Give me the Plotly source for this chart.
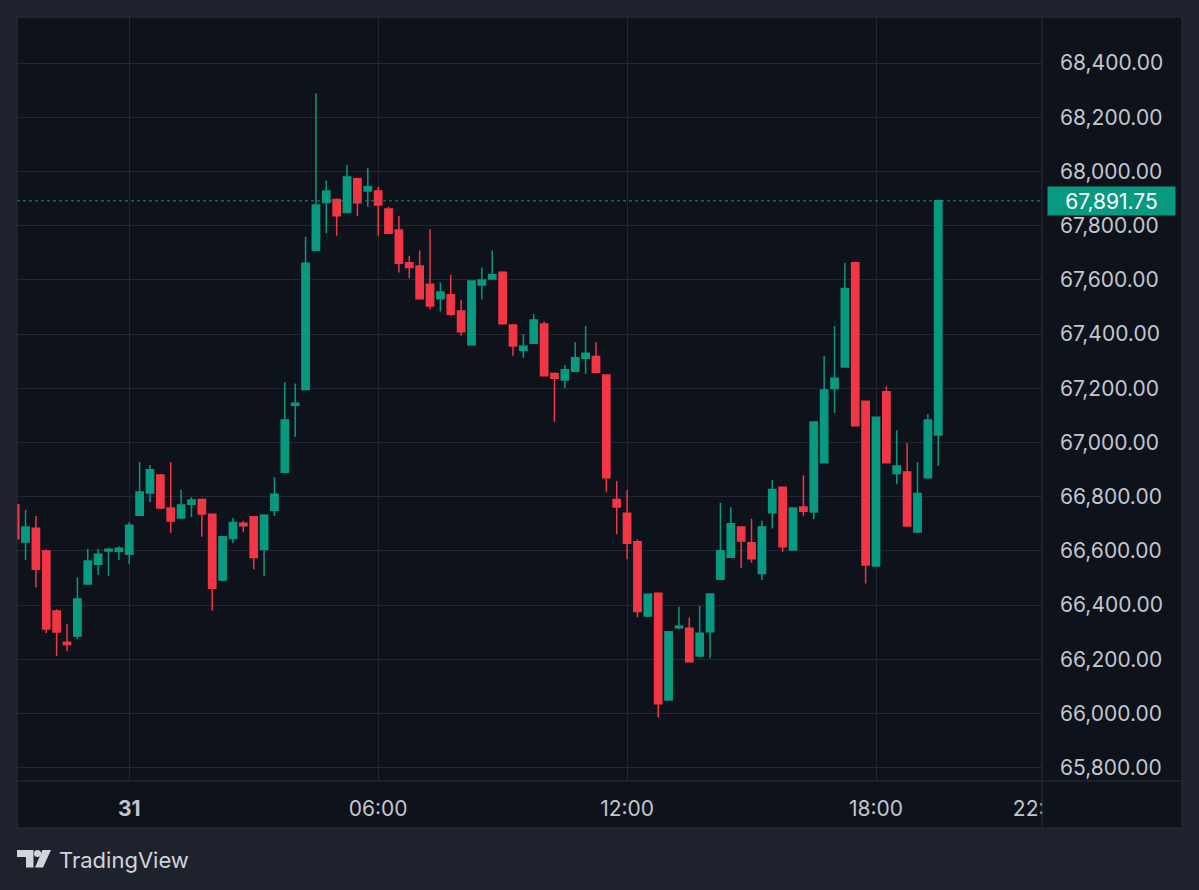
import pandas as pd
import plotly.graph_objects as go

# ---- data (15-minute candles, 30 May 21:15 -> 31 May 19:30) ----
start_time = "2024-05-30 21:15"
n_candles = 90
times = pd.date_range(start_time, periods=n_candles, freq="15min")

opens = [66770, 66633, 66684, 66600, 66378, 66263, 66286, 66478, 66551, 66600,
         66599, 66588, 66732, 66814, 66880, 66758, 66721, 66772, 66790, 66735,
         66493, 66646, 66702, 66726, 66606, 66750, 66890, 67137, 67196, 67709,
         67886, 67897, 67849, 67973, 67928, 67928, 67862, 67784, 67663, 67651,
         67584, 67530, 67545, 67485, 67361, 67581, 67603, 67628, 67434, 67340,
         67366, 67437, 67255, 67231, 67263, 67311, 67317, 67249, 66790, 66739,
         66634, 66360, 66444, 66050, 66316, 66315, 66212, 66302, 66495, 66577,
         66688, 66630, 66517, 66741, 66835, 66603, 66762, 66744, 66925, 67199,
         67279, 67663, 67152, 66544, 67187, 66886, 66891, 66670, 66870, 67028]
highs = [66775, 66751, 66729, 66605, 66385, 66330, 66503, 66607, 66607, 66610,
         66617, 66706, 66928, 66917, 66884, 66928, 66825, 66799, 66793, 66738,
         66655, 66722, 66710, 66729, 66735, 66872, 67222, 67218, 67759, 68289,
         67966, 67900, 68024, 67977, 68014, 67944, 67870, 67836, 67689, 67708,
         67787, 67591, 67619, 67527, 67598, 67646, 67708, 67632, 67437, 67399,
         67473, 67446, 67258, 67285, 67370, 67430, 67370, 67252, 66858, 66825,
         66643, 66442, 66447, 66304, 66394, 66354, 66397, 66443, 66778, 66761,
         66691, 66719, 66711, 66861, 66838, 66760, 66879, 67078, 67319, 67430,
         67663, 67667, 67154, 67095, 67208, 67045, 66997, 66927, 67105, 67893]
lows = [66640, 66566, 66466, 66297, 66212, 66230, 66274, 66476, 66511, 66507,
        66566, 66551, 66730, 66780, 66755, 66666, 66719, 66725, 66652, 66379,
        66489, 66628, 66669, 66532, 66507, 66729, 66888, 67021, 67194, 67705,
        67772, 67763, 67847, 67836, 67870, 67763, 67770, 67627, 67606, 67528,
        67492, 67483, 67468, 67394, 67359, 67528, 67601, 67436, 67320, 67313,
        67364, 67244, 67077, 67200, 67261, 67253, 67257, 66816, 66661, 66569,
        66355, 66355, 65986, 66048, 66311, 66189, 66208, 66204, 66493, 66575,
        66538, 66556, 66493, 66683, 66597, 66601, 66730, 66717, 66923, 67110,
        67277, 67060, 66480, 66542, 66923, 66846, 66690, 66668, 66868, 66914]
closes = [66645, 66688, 66532, 66312, 66301, 66255, 66423, 66563, 66588, 66606,
          66610, 66695, 66817, 66899, 66758, 66710, 66769, 66788, 66736, 66462,
          66652, 66705, 66693, 66576, 66732, 66809, 67083, 67145, 67661, 67876,
          67928, 67837, 67980, 67885, 67944, 67876, 67772, 67661, 67646, 67530,
          67504, 67555, 67473, 67409, 67596, 67600, 67619, 67438, 67356, 67355,
          67452, 67246, 67237, 67268, 67313, 67329, 67259, 66870, 66762, 66628,
          66376, 66440, 66036, 66302, 66322, 66191, 66296, 66441, 66601, 66700,
          66637, 66571, 66688, 66827, 66615, 66758, 66746, 67076, 67194, 67237,
          67568, 67062, 66548, 67093, 66925, 66913, 66692, 66812, 67083, 67891.75]

last_price = 67891.75
tick_times = ["2024-05-31 00:00", "2024-05-31 06:00", "2024-05-31 12:00",
              "2024-05-31 18:00", "2024-05-31 22:00"]
tick_labels = ["<b>31</b>", "06:00", "12:00", "18:00", "22:00"]
x_range = ["2024-05-30 21:17:40", "2024-05-31 22:00:05"]
y_range = [65751, 68570]

# ---- style ----
UP = "#089981"
DOWN = "#F23645"
OUTER = "#1e222d"
INNER = "#0e121b"
GRID = "#222733"
BORDER = "#2a2e39"
TEXT = "#c3c6ce"
FONT = "Inter"
FS = 21

W, H = 1199, 890
L, R, T, B = 17, 1042, 17, 781


def px(x):
    return (x - L) / (R - L)


def py(y):
    return (B - y) / (B - T)


fig = go.Figure(go.Candlestick(
    x=times, open=opens, high=highs, low=lows, close=closes,
    increasing=dict(line=dict(color=UP, width=1.5), fillcolor=UP),
    decreasing=dict(line=dict(color=DOWN, width=1.5), fillcolor=DOWN),
    whiskerwidth=0, hoverinfo="skip", showlegend=False,
))

shapes = [
    dict(type="rect", xref="paper", yref="paper", x0=px(17), x1=px(1182),
         y0=py(828), y1=py(17), fillcolor=INNER, line=dict(width=0), layer="below"),
    dict(type="line", xref="paper", yref="y", x0=0, x1=1, y0=last_price, y1=last_price,
         line=dict(color=UP, width=1, dash="dot"), layer="above"),
    dict(type="rect", xref="paper", yref="paper", x0=px(1042.5), x1=px(1181.5),
         y0=py(827.5), y1=py(781.5), fillcolor=INNER, line=dict(width=0), layer="above"),
    dict(type="line", xref="paper", yref="paper", x0=px(1042), x1=px(1042),
         y0=py(828), y1=py(17), line=dict(color=BORDER, width=1), layer="above"),
    dict(type="line", xref="paper", yref="paper", x0=px(17), x1=px(1182),
         y0=py(781), y1=py(781), line=dict(color=BORDER, width=1), layer="above"),
    dict(type="rect", xref="paper", yref="paper", x0=px(17), x1=px(1182),
         y0=py(828), y1=py(17), line=dict(color=BORDER, width=1), layer="above"),
]

# TradingView logo (approximation with shapes)
LOGO = "#d1d4dc"
def pth(points):
    return "M " + " L ".join(f"{px(a):.5f},{py(b):.5f}" for a, b in points) + " Z"

shapes.append(dict(type="path", xref="paper", yref="paper",
                   path=pth([(17, 850), (33.5, 850), (33.5, 867.5), (26, 867.5), (26, 857), (17, 857)]),
                   fillcolor=LOGO, line=dict(width=0)))
shapes.append(dict(type="circle", xref="paper", yref="paper",
                   x0=px(34), x1=px(41), y0=py(857), y1=py(850),
                   fillcolor=LOGO, line=dict(width=0)))
shapes.append(dict(type="path", xref="paper", yref="paper",
                   path=pth([(42.5, 850), (51, 850), (43, 867.5), (35, 867.5)]),
                   fillcolor=LOGO, line=dict(width=0)))

annotations = [
    dict(xref="paper", yref="y", x=px(1047), y=last_price, xanchor="left", yanchor="middle",
         text="67,891.75", showarrow=False, bgcolor=UP, borderpad=3,
         width=121, height=22, align="center",
         font=dict(family=FONT, size=FS, color="#ffffff")),
    dict(xref="paper", yref="paper", x=px(57), y=py(860), xanchor="left", yanchor="middle",
         text="TradingView", showarrow=False,
         font=dict(family=FONT, size=22, color=LOGO)),
]

fig.update_layout(
    width=W, height=H,
    margin=dict(l=L, r=W - R, t=T, b=H - B, pad=0),
    paper_bgcolor=OUTER, plot_bgcolor=INNER,
    font=dict(family=FONT, size=FS, color=TEXT),
    shapes=shapes, annotations=annotations,
    boxgap=0.3, boxgroupgap=0,
    xaxis=dict(type="date", range=x_range, tickvals=tick_times, ticktext=tick_labels,
               showgrid=True, gridcolor=GRID, gridwidth=1, zeroline=False,
               showline=False, ticks="", ticklabelstandoff=13,
               rangeslider=dict(visible=False), automargin=False,
               tickfont=dict(family=FONT, size=FS, color=TEXT)),
    yaxis=dict(side="right", range=y_range, tick0=65800, dtick=200, tickformat=",.2f",
               showgrid=True, gridcolor=GRID, gridwidth=1, zeroline=False,
               showline=False, ticks="", ticklabelstandoff=17, automargin=False,
               tickfont=dict(family=FONT, size=FS, color=TEXT)),
)

fig.write_html("out.html", config={"displayModeBar": False},
               post_script="document.body.style.margin='0px';document.body.style.background='" + OUTER + "';")
